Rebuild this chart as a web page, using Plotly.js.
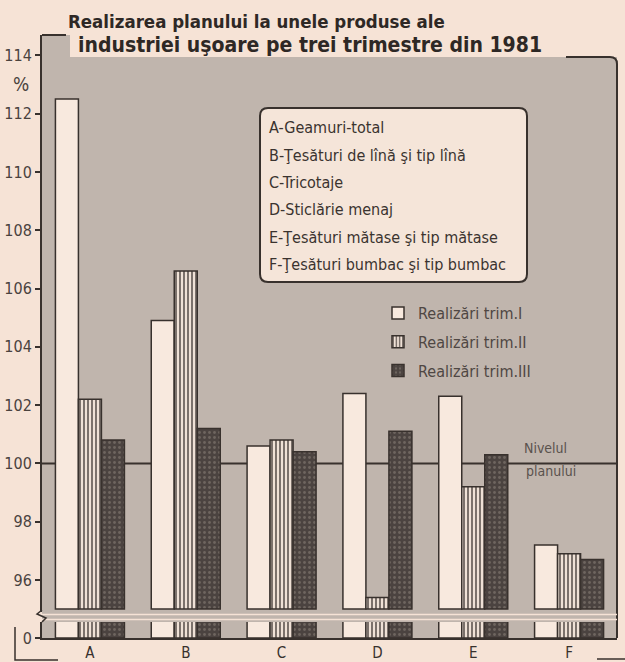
<!DOCTYPE html>
<html><head><meta charset="utf-8">
<script src="https://cdn.plot.ly/plotly-3.0.1.min.js"></script>
<style>html,body{margin:0;padding:0;background:#f6e3d6}</style>
</head><body><div id="chart" style="width:625px;height:662px"></div>
<script>
// ---- data ----
const categories = ['A', 'B', 'C', 'D', 'E', 'F'];
const productNames = [
  'A-Geamuri-total',
  'B-Ţesături de lînă şi tip lînă',
  'C-Tricotaje',
  'D-Sticlărie menaj',
  'E-Ţesături mătase şi tip mătase',
  'F-Ţesături bumbac şi tip bumbac'
];
const seriesNames = ['Realizări trim.I', 'Realizări trim.II', 'Realizări trim.III'];
const trimI   = [112.5, 104.9, 100.6, 102.4, 102.3, 97.2];
const trimII  = [102.2, 106.6, 100.8, 95.4, 99.2, 96.9];
const trimIII = [100.8, 101.2, 100.4, 101.1, 100.3, 96.7];
const yTicks = [96, 98, 100, 102, 104, 106, 108, 110, 112, 114];
const planLevel = 100;
const titleLines = ['Realizarea planului la unele produse ale', 'industriei uşoare pe trei trimestre din 1981'];
const planLabel = ['Nivelul', 'planului'];

// ---- geometry / style ----
const W = 625, H = 662, L = 42, R = 8, T = 35, B = 24;
const pw = W - L - R, ph = H - T - B;
const fx = px => (px - L) / pw;
const fy = py => (H - B - py) / ph;
const BREAK = 95;
const FONT = '"DejaVu Sans Condensed", "Liberation Sans Narrow", sans-serif';
const INK = '#38312d', TXT = '#4a423e', PAPER = '#f6e3d6', GREY = '#c0b5ad';

const styles = [
  {color: '#f8e9de', pattern: {shape: ''}},
  {color: '#efe1d6', pattern: {shape: '|', fgcolor: '#4a423e', bgcolor: '#efe1d6', size: 4, solidity: 0.35}},
  {color: '#4b4340', pattern: {shape: '.', fgcolor: '#6e655f', bgcolor: '#4b4340', size: 5, solidity: 0.25}}
];
const seriesValues = [trimI, trimII, trimIII];

const traces = [];
seriesValues.forEach((vals, i) => {
  const marker = {color: styles[i].color, pattern: styles[i].pattern, line: {color: INK, width: 1.5}};
  traces.push({type: 'bar', x: categories, y: vals.map(v => v - BREAK), base: BREAK, yaxis: 'y2',
    name: seriesNames[i], legendgroup: 'g' + i, marker: marker,
    customdata: vals, hovertemplate: '%{x}: %{customdata}%<extra>' + seriesNames[i] + '</extra>'});
  traces.push({type: 'bar', x: categories, y: vals, yaxis: 'y', showlegend: false,
    legendgroup: 'g' + i, marker: marker, hoverinfo: 'skip'});
});

const shapes = [
  {type: 'rect', xref: 'paper', yref: 'paper', x0: 0, x1: 1, y0: 0, y1: 1, fillcolor: GREY, line: {width: 0}, layer: 'below'},
  {type: 'rect', xref: 'paper', yref: 'paper', x0: fx(70), x1: fx(630), y0: fy(57), y1: fy(-5), fillcolor: PAPER, line: {width: 0}, layer: 'below'},
  {type: 'line', xref: 'paper', yref: 'y2', x0: 0, x1: 1, y0: planLevel, y1: planLevel, line: {color: INK, width: 2}, layer: 'below'},
  {type: 'path', xref: 'paper', yref: 'paper', layer: 'above',
   path: `M ${fx(617)},${fy(638)} L ${fx(617)},${fy(64)} Q ${fx(617)},${fy(57)} ${fx(610)},${fy(57)} L ${fx(566)},${fy(57)}`,
   line: {color: INK, width: 2}},
  {type: 'line', xref: 'paper', yref: 'paper', x0: fx(42), x1: fx(66), y0: fy(35), y1: fy(35), line: {color: INK, width: 2}},
  {type: 'line', xref: 'paper', yref: 'paper', x0: 0, x1: 1, y0: fy(614.5), y1: fy(614.5), line: {color: PAPER, width: 1.5}, layer: 'above'},
  {type: 'line', xref: 'paper', yref: 'paper', x0: 0, x1: 1, y0: fy(619.5), y1: fy(619.5), line: {color: PAPER, width: 1.5}, layer: 'above'},
  {type: 'path', xref: 'paper', yref: 'paper',
   path: `M ${fx(42)},${fy(610)} L ${fx(37)},${fy(614)} L ${fx(46)},${fy(618)} L ${fx(42)},${fy(622)}`,
   line: {color: INK, width: 1.5}},
  {type: 'path', xref: 'paper', yref: 'paper',
   path: `M ${fx(15)},${fy(627)} L ${fx(15)},${fy(660)} L ${fx(58)},${fy(660)}`,
   line: {color: INK, width: 1.5}},
  {type: 'line', xref: 'paper', yref: 'paper', x0: fx(597), x1: fx(625), y0: fy(659), y1: fy(659), line: {color: INK, width: 1.5}},
  {type: 'path', xref: 'paper', yref: 'paper', layer: 'above', fillcolor: '#f5e5d9',
   path: `M ${fx(268)},${fy(108)} L ${fx(519)},${fy(108)} Q ${fx(527)},${fy(108)} ${fx(527)},${fy(116)} L ${fx(527)},${fy(274)} Q ${fx(527)},${fy(282)} ${fx(519)},${fy(282)} L ${fx(268)},${fy(282)} Q ${fx(260)},${fy(282)} ${fx(260)},${fy(274)} L ${fx(260)},${fy(116)} Q ${fx(260)},${fy(108)} ${fx(268)},${fy(108)} Z`,
   line: {color: INK, width: 2}}
];

const annotations = [
  {text: titleLines[0], xref: 'paper', yref: 'paper', x: fx(66), y: fy(21), xanchor: 'left', yanchor: 'middle', showarrow: false,
   font: {family: FONT, size: 18.5, color: '#2e2825', weight: 700}},
  {text: titleLines[1], xref: 'paper', yref: 'paper', x: fx(76), y: fy(45), xanchor: 'left', yanchor: 'middle', showarrow: false,
   font: {family: FONT, size: 21, color: '#2e2825', weight: 700}},
  {text: '%', xref: 'paper', yref: 'paper', x: fx(21), y: fy(84), xanchor: 'center', yanchor: 'middle', showarrow: false,
   font: {family: FONT, size: 19, color: TXT}},
  {text: planLabel[0], xref: 'paper', yref: 'y2', x: fx(545), y: planLevel, yshift: 5, xanchor: 'center', yanchor: 'bottom', showarrow: false,
   font: {family: FONT, size: 14, color: '#5a524d'}},
  {text: planLabel[1], xref: 'paper', yref: 'y2', x: fx(551), y: planLevel, yshift: 2, xanchor: 'center', yanchor: 'top', showarrow: false,
   font: {family: FONT, size: 14, color: '#5a524d'}}
];
productNames.forEach((t, i) => annotations.push({
  text: t, xref: 'paper', yref: 'paper', x: fx(267), y: fy(128 + i * 27.3), xanchor: 'left', yanchor: 'middle', showarrow: false,
  font: {family: FONT, size: 16, color: '#3a332f'}
}));

const axisFont = {family: FONT, size: 16, color: TXT};
const layout = {
  width: W, height: H,
  margin: {l: L, r: R, t: T, b: B, pad: 0},
  paper_bgcolor: PAPER, plot_bgcolor: 'rgba(0,0,0,0)',
  barmode: 'group', bargap: 0.28, bargroupgap: 0,
  showlegend: true,
  xaxis: {type: 'category', categoryorder: 'array', categoryarray: categories, range: [-0.5, 5.5],
    showline: true, linecolor: INK, linewidth: 2, ticks: '', showgrid: false, zeroline: false,
    tickfont: {family: FONT, size: 15, color: INK}, anchor: 'y', fixedrange: true},
  yaxis: {domain: [0, fy(622)], range: [0, 1], tickvals: [0], ticktext: ['0'], ticks: 'outside', ticklen: 5,
    tickcolor: INK, tickwidth: 2, showline: true, linecolor: INK, linewidth: 2, showgrid: false, zeroline: false,
    tickfont: axisFont, fixedrange: true},
  yaxis2: {domain: [fy(612), 1], range: [BREAK - 0.1, 114.7], tickvals: yTicks, ticks: 'outside', ticklen: 5,
    tickcolor: INK, tickwidth: 2, showline: true, linecolor: INK, linewidth: 2, showgrid: false, zeroline: false,
    tickfont: axisFont, anchor: 'x', fixedrange: true},
  legend: {x: fx(378), y: fy(296), xanchor: 'left', yanchor: 'top', bgcolor: 'rgba(0,0,0,0)',
    font: {family: FONT, size: 16, color: '#4f4743'}, tracegroupgap: 5, itemclick: false, itemdoubleclick: false},
  shapes: shapes, annotations: annotations
};

Plotly.newPlot('chart', traces, layout, {displayModeBar: false});
</script></body></html>
